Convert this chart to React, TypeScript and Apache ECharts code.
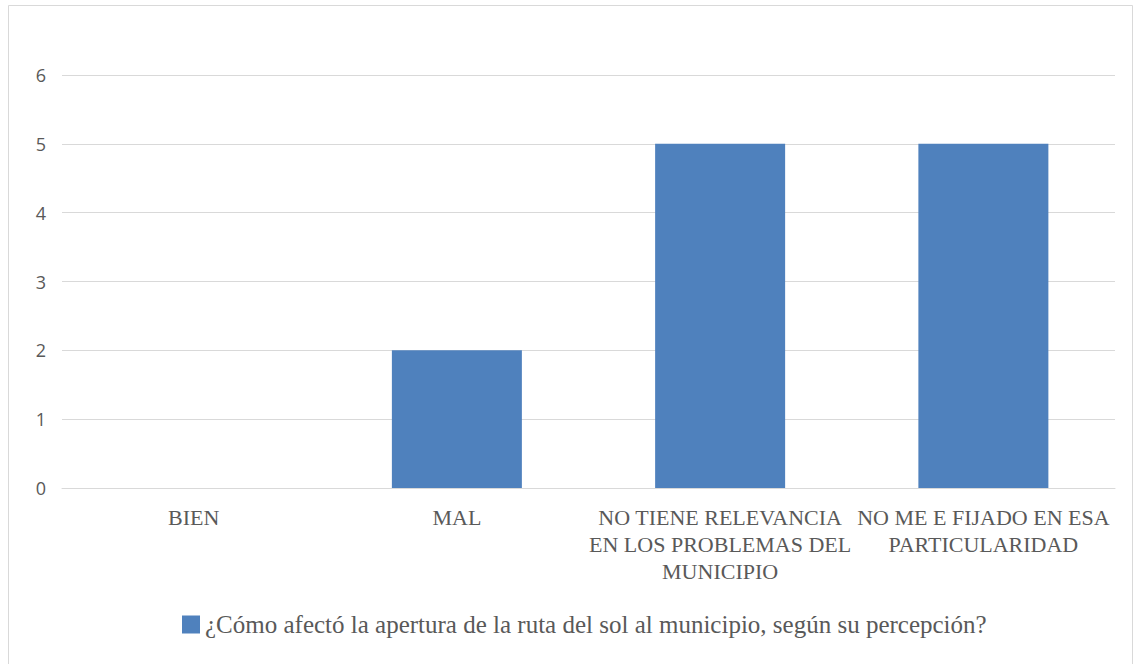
import React, { useEffect, useRef } from "react";
import * as echarts from "echarts";

const categories = [
  "BIEN",
  "MAL",
  "NO TIENE RELEVANCIA\nEN LOS PROBLEMAS DEL\nMUNICIPIO",
  "NO ME E FIJADO EN ESA\nPARTICULARIDAD",
];
const values = [0, 2, 5, 5];
const seriesName = "¿Cómo afectó la apertura de la ruta del sol al municipio, según su percepción?";
const yTicks = { min: 0, max: 6, interval: 1 };

export default function App() {
  const ref = useRef<HTMLDivElement>(null);
  useEffect(() => {
    const chart = echarts.init(ref.current!, undefined, { renderer: "svg" });
    chart.setOption({
      animation: false,
      backgroundColor: "#ffffff",
      graphic: [
        {
          type: "rect",
          shape: { x: 8.5, y: 5.5, width: 1124, height: 700 },
          style: { fill: "none", stroke: "#d9d9d9", lineWidth: 1 },
          silent: true,
        },
      ],
      grid: { left: 62, right: 20, top: 75, bottom: 176, containLabel: false },
      xAxis: {
        type: "category",
        data: categories,
        axisTick: { show: false },
        axisLine: { lineStyle: { color: "#d9d9d9", width: 1 } },
        axisLabel: {
          interval: 0,
          margin: 16,
          color: "#595959",
          fontFamily: "Liberation Serif",
          fontSize: 22,
          lineHeight: 27,
          align: "center",
        },
      },
      yAxis: {
        type: "value",
        min: yTicks.min,
        max: yTicks.max,
        interval: yTicks.interval,
        axisLine: { show: false },
        axisTick: { show: false },
        splitLine: { lineStyle: { color: "#d9d9d9", width: 1 } },
        axisLabel: {
          color: "#595959",
          fontFamily: "Open Sans",
          fontSize: 18,
          margin: 16,
        },
      },
      legend: {
        data: [seriesName],
        bottom: 22,
        left: 177,
        itemWidth: 18,
        itemHeight: 18,
        itemGap: 6,
        icon: "rect",
        textStyle: {
          color: "#595959",
          fontFamily: "Liberation Serif",
          fontSize: 25,
        },
      },
      series: [
        {
          name: seriesName,
          type: "bar",
          data: values,
          barWidth: 130,
          itemStyle: { color: "#4f81bd" },
        },
      ],
    });
    return () => chart.dispose();
  }, []);
  return (
    <div
      ref={ref}
      style={{ position: "absolute", left: 0, top: 0, width: 1135, height: 664 }}
    />
  );
}
